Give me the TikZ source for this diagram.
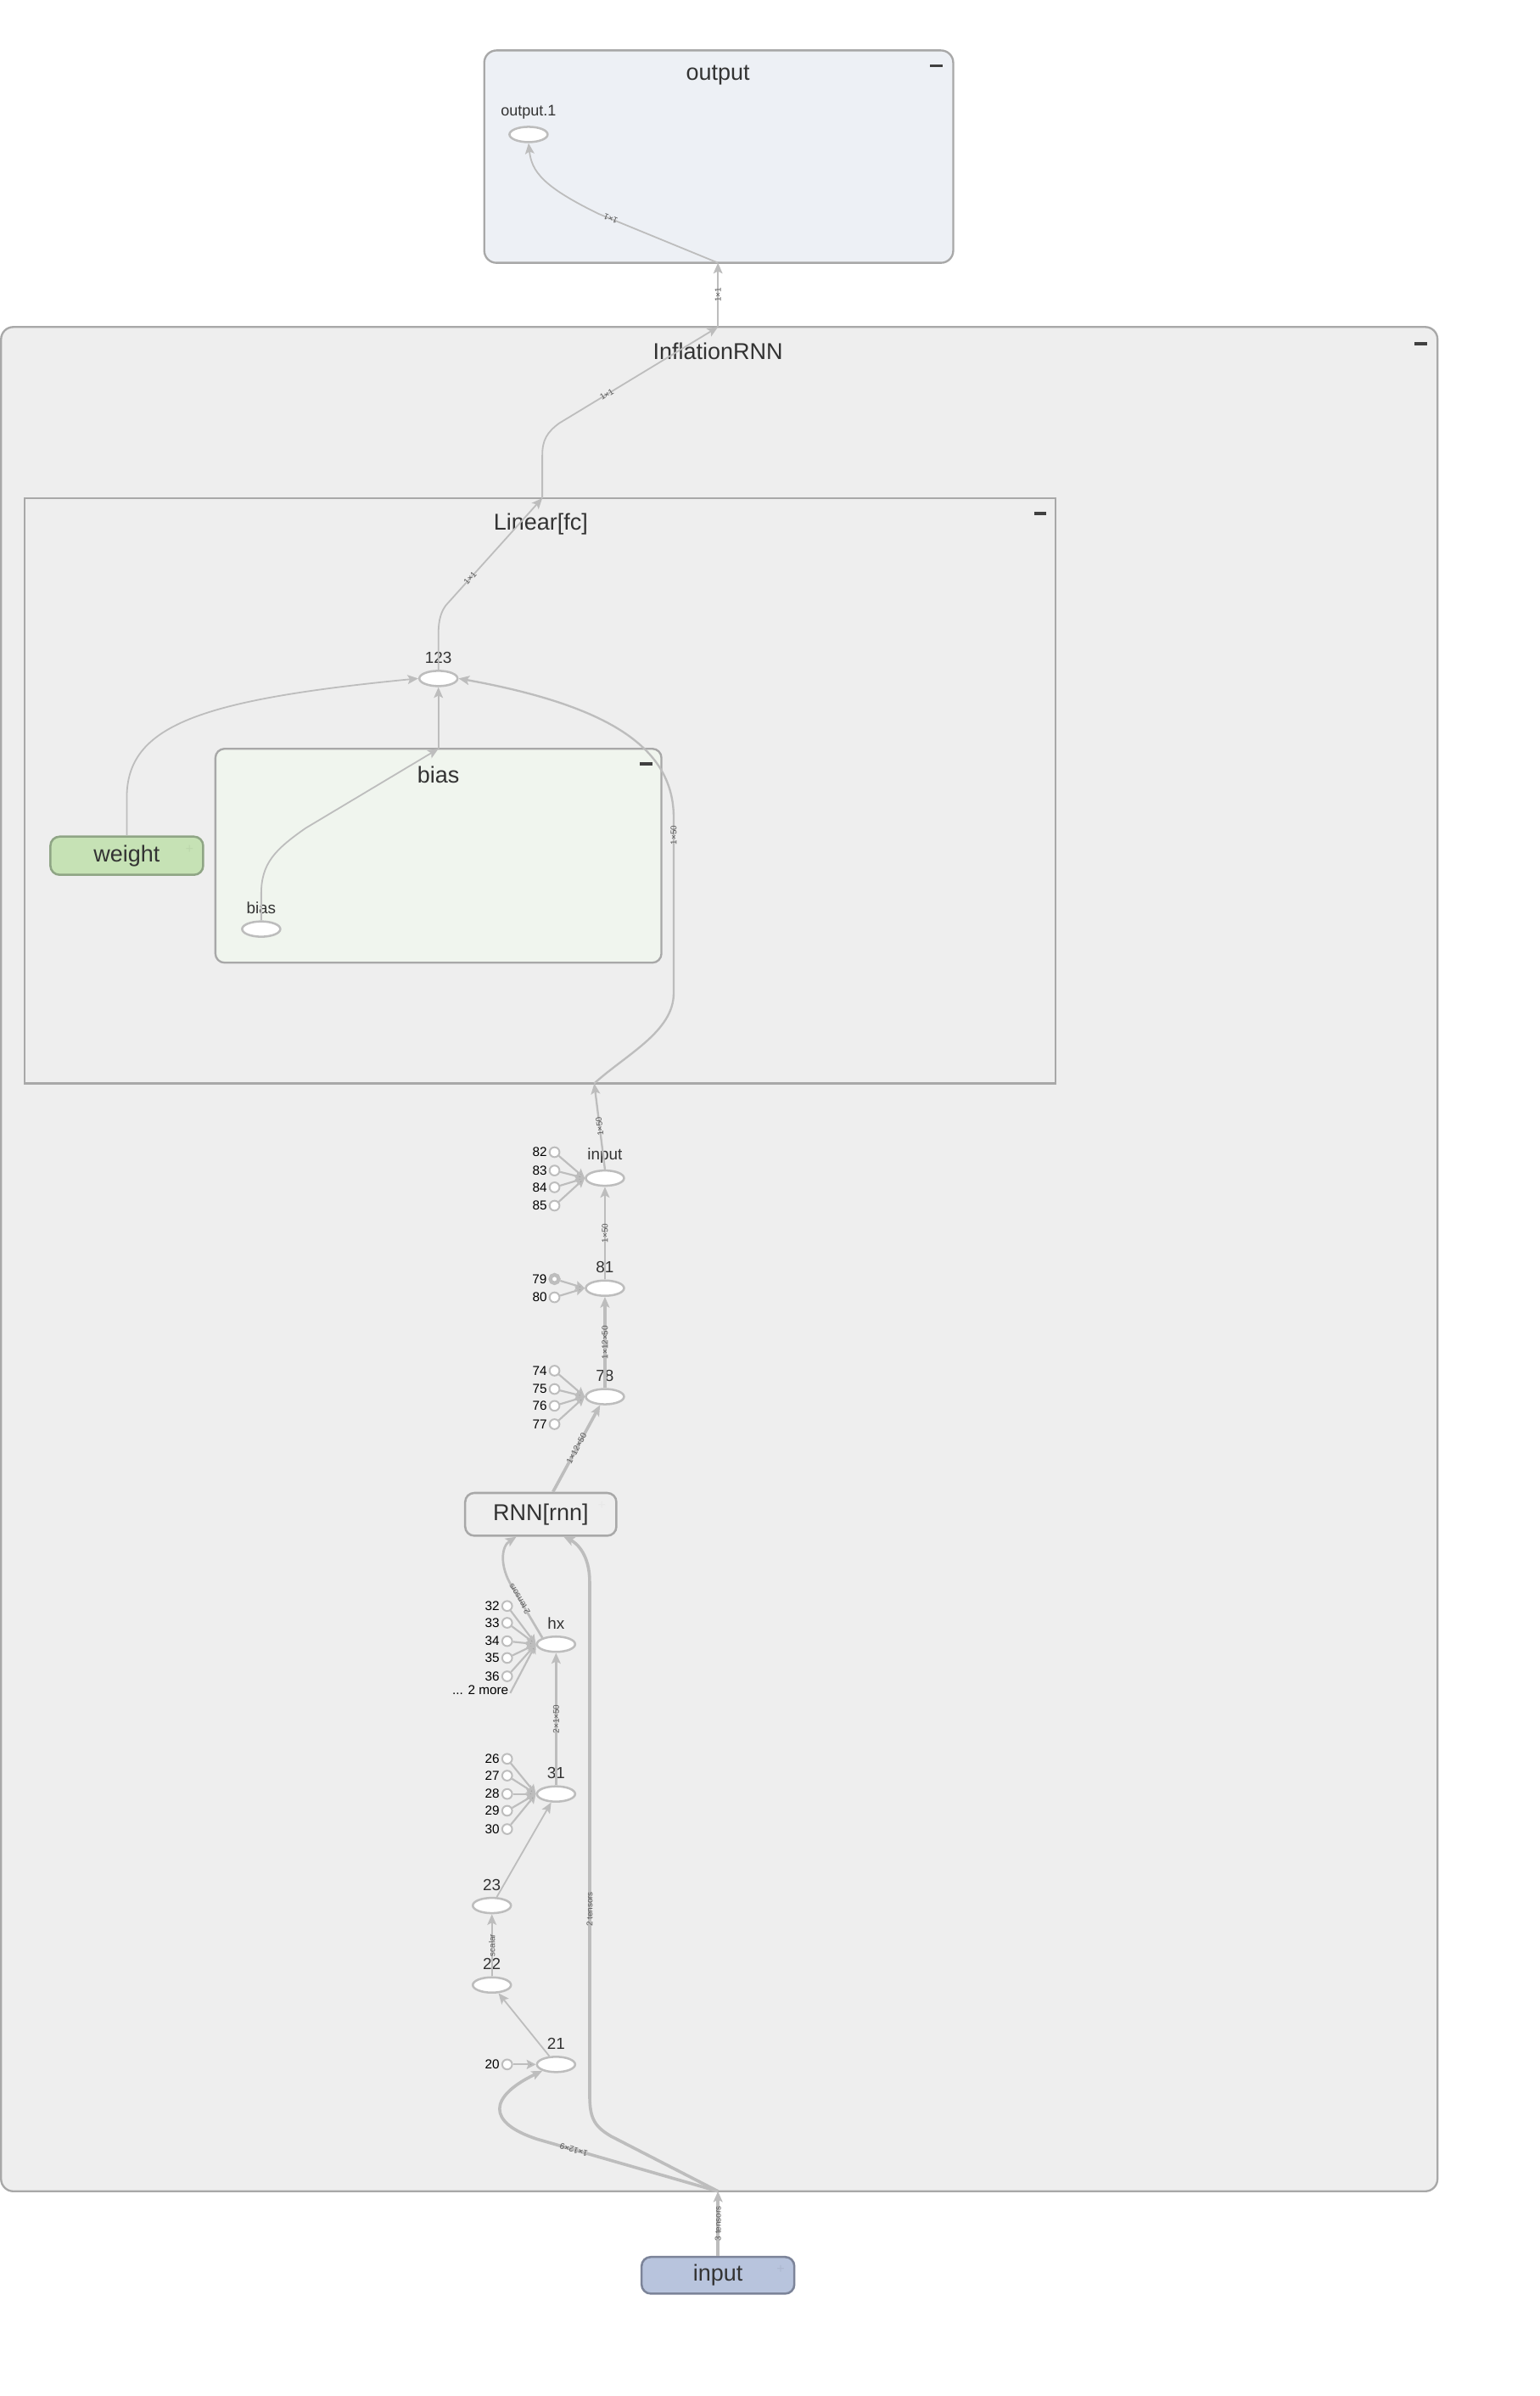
\documentclass[tikz,border=0pt]{standalone}
\usepackage{fontspec}
\setmainfont{Liberation Sans}
\usetikzlibrary{arrows.meta,shapes.geometric}

\definecolor{edgegray}{HTML}{BDBDBD}
\definecolor{boxgray}{HTML}{A8A8A8}
\definecolor{modfill}{HTML}{EEEEEE}
\definecolor{outfill}{HTML}{EDF0F5}
\definecolor{biasfill}{HTML}{F0F5EE}
\definecolor{wfill}{HTML}{C6E2B5}
\definecolor{wdraw}{HTML}{8FA585}
\definecolor{infill}{HTML}{B8C4DD}
\definecolor{indraw}{HTML}{7C8499}
\definecolor{txt}{HTML}{333333}

\tikzset{
  cluster/.style={draw=boxgray, line width=1.3pt, rounded corners=8pt},
  title/.style={text=txt, font=\fontsize{15}{18}\selectfont},
  op/.style={ellipse, draw=edgegray, fill=white, line width=1.4pt, minimum width=25pt, minimum height=10pt, inner sep=0pt},
  const/.style={circle, draw=edgegray, fill=white, line width=1.1pt, minimum size=6.5pt, inner sep=0pt},
  lbl/.style={text=txt, font=\fontsize{10.5}{12}\selectfont, inner sep=1pt, label distance=3pt},
  clbl/.style={text=black, font=\fontsize{8.5}{10}\selectfont, inner sep=1pt},
  flow/.style={draw=edgegray, line width=1pt, -{Stealth[length=7pt,width=6pt,inset=1.5pt]}},
  feed/.style={draw=edgegray, line width=1.2pt, -{Stealth[length=6pt,width=6pt,inset=1pt,fill=edgegray!85!black]}},
  elabel/.style={text=black!65, font=\fontsize{5.5}{6}\selectfont, sloped, allow upside down, inner sep=0.5pt},
  minus/.style={draw=black!75, line width=2pt},
  leaf/.style={rounded corners=6pt, line width=1.4pt, minimum width=100pt, minimum height=25pt, font=\fontsize{15}{18}\selectfont, text=txt},
  faint/.style={font=\fontsize{9}{9}\selectfont}
}

\begin{document}
\begin{tikzpicture}[x=1pt, y=-1pt]
    \fill[white] (0,0) rectangle (1008,1568);
    \useasboundingbox (0,0) rectangle (1008,1568);

    % output
    \draw[cluster, fill=outfill] (317,33) rectangle (624,172);
    \node[title] (outtitle) at (470,49) {output};
    \draw[minus] (609,43) -- (617,43);
    \node[op, label={[lbl, font=\fontsize{10}{12}\selectfont]above:output.1}] (out1) at (346,88) {};

    % InflationRNN
    \draw[cluster, fill=modfill] (0.7,214) rectangle (941,1434);
    \node[title] (modtitle) at (470,230) {InflationRNN};
    \draw[minus] (926,225) -- (934,225);

    % Linear[fc]
    \draw[cluster, sharp corners, fill=modfill] (16,326) rectangle (691,709);
    \node[title] (lintitle) at (354,343) {Linear[fc]};
    \draw[minus] (677,336) -- (685,336);
    \node[op, label={[lbl]above:123}] (n123) at (287,444) {};
    \node[leaf, fill=wfill, draw=wdraw] (weight) at (83,560) {weight};
    \node[faint, text=wfill!95!black] at (124,556) {+};

    % bias
    \draw[cluster, rounded corners=6pt, fill=biasfill] (141,490) rectangle (433,630);
    \node[title] (biastitle) at (287,507) {bias};
    \draw[minus] (419,500) -- (427,500);
    \node[op, label={[lbl]above:bias}] (biasop) at (171,608) {};

    % ports on the boxes
    \coordinate (outbot) at (470,172);
    \coordinate (modtop) at (470,214);
    \coordinate (lintop) at (355,326);
    \coordinate (linbot) at (389,709);
    \coordinate (biastop) at (287,490);
    \coordinate (modbot) at (470,1434);

    % ops
    \node[op, label={[lbl]above:input}] (inop) at (396,771) {};
    \node[op, label={[lbl]above:81}] (n81) at (396,843) {};
    \node[op, label={[lbl]above:78}] (n78) at (396,914) {};
    \node[leaf, fill=modfill, draw=boxgray, minimum width=99pt, minimum height=28pt] (rnn) at (354,991) {RNN[rnn]};
    \node[faint, text=black!9] at (394,985) {+};
    \node[op, label={[lbl]above:hx}] (hx) at (364,1076) {};
    \node[op, label={[lbl]above:31}] (n31) at (364,1174) {};
    \node[op, label={[lbl]above:23}] (n23) at (322,1247) {};
    \node[op, label={[lbl]above:22}] (n22) at (322,1299) {};
    \node[op, label={[lbl]above:21}] (n21) at (364,1351) {};
    \node[leaf, fill=infill, draw=indraw, minimum height=24pt] (input) at (470,1489) {input};
    \node[faint, text=infill!94!black] at (511,1485) {+};

    % constants
    \foreach \n/\y in {82/754, 83/766, 84/777, 85/789} {
        \node[const, label={[clbl]left:\n}] (c\n) at (363,\y) {};
        \draw[feed] (c\n) -- (inop.west);
    }
    \node[const, line width=2.4pt, minimum size=5.5pt, label={[clbl]left:79}] (c79) at (363,837) {};
    \node[const, label={[clbl]left:80}] (c80) at (363,849) {};
    \foreach \n in {79,80} \draw[feed] (c\n) -- (n81.west);
    \foreach \n/\y in {74/897, 75/909, 76/920, 77/932} {
        \node[const, label={[clbl]left:\n}] (c\n) at (363,\y) {};
        \draw[feed] (c\n) -- (n78.west);
    }
    \foreach \n/\y in {32/1051, 33/1062, 34/1074, 35/1085, 36/1097} {
        \node[const, label={[clbl]left:\n}] (c\n) at (332,\y) {};
        \draw[feed] (c\n) -- (hx.west);
    }
    \node[clbl, anchor=east] (more) at (334,1106) {... 2 more};
    \draw[feed] ([yshift=-2pt]more.east) -- (hx.west);
    \foreach \n/\y in {26/1151, 27/1162, 28/1174, 29/1185, 30/1197} {
        \node[const, label={[clbl]left:\n}] (c\n) at (332,\y) {};
        \draw[feed] (c\n) -- (n31.west);
    }
    \node[const, label={[clbl]left:20}] (c20) at (332,1351) {};
    \draw[feed] (c20) -- (n21.west);

    % edges, top part
    \draw[flow] (modtop) -- (outbot) node[elabel, midway] {1×1};
    \draw[flow] (outbot) -- node[elabel, pos=0.9] {1×1} (392,140) .. controls (355,122) and (348,112) .. (out1.south);
    \draw[flow] (lintop) -- (355,298) .. controls (355,288) and (358,283) .. (366,277) -- node[elabel, pos=0.3] {1×1} (modtop);
    \draw[flow] (n123.north) -- (287,415) .. controls (287,405) and (289,400) .. (292,396) -- node[elabel, pos=0.25] {1×1} (lintop);
    \draw[flow] (weight.north) -- (83,522) .. controls (83,475) and (130,458) .. (n123.west);
    \draw[flow] (biasop.north) -- (171,585) .. controls (171,565) and (180,556) .. (200,542) -- (biastop);
    \draw[flow] (biastop) -- (n123.south);
    \draw[flow, line width=1.3pt] (linbot) .. controls (410,690) and (441,675) .. (441,650) -- node[elabel, pos=0.9] {1×50} (441,535) .. controls (441,490) and (400,462) .. (n123.east);
    \draw[flow, line width=1.3pt] (inop.north) -- (linbot) node[elabel, midway] {1×50};

    % edges, RNN part
    \draw[flow, line width=1.5pt] (n81) -- (inop) node[elabel, midway] {1×50};
    \draw[flow, line width=2pt] (n78) -- (n81) node[elabel, midway] {1×12×50};
    \draw[flow, line width=2pt] ([xshift=8pt]rnn.north) -- (n78.240) node[elabel, midway] {1×12×50};
    \draw[flow, line width=1.5pt] (hx.155) -- node[elabel, pos=0.75] {2 tensors} (335,1038) .. controls (327,1025) and (328,1012) .. ([xshift=-16pt]rnn.south);
    \draw[flow, line width=1.5pt] (n31) -- (hx) node[elabel, midway] {2×1×50};
    \draw[flow] (n23) -- (n31);
    \draw[flow] (n22) -- (n23) node[elabel, midway] {scalar};
    \draw[flow] (n21) -- (n22);

    % edges from input
    \draw[flow, line width=2pt] (modbot) -- node[elabel, pos=0.8] {1×12×9} (352,1400) .. controls (318,1389) and (320,1372) .. (n21.205);
    \draw[flow, line width=2pt] (modbot) -- (400,1398) .. controls (388,1391) and (386,1385) .. (386,1370) -- node[elabel, pos=0.36] {2 tensors} (386,1035) .. controls (386,1018) and (378,1010) .. ([xshift=15pt]rnn.south);
    \draw[flow, line width=2.2pt] (input.north) -- (modbot) node[elabel, midway] {3 tensors};
\end{tikzpicture}
\end{document}
